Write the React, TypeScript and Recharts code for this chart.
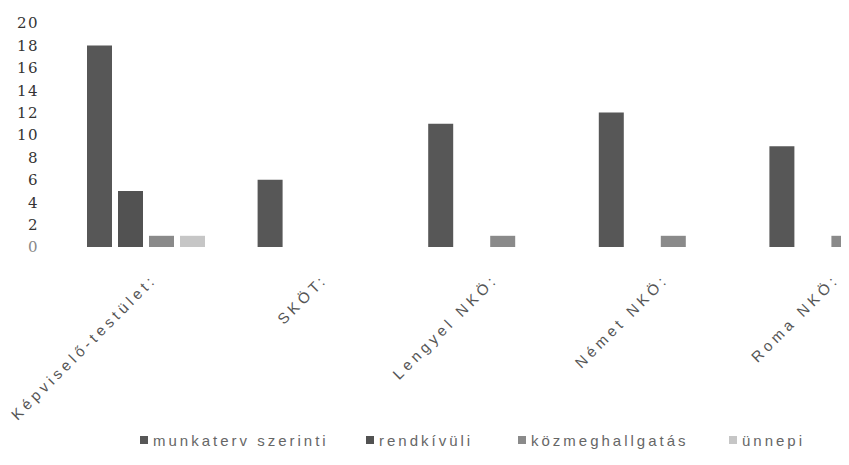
import React from 'react';
import { BarChart, Bar, XAxis, YAxis, Legend } from 'recharts';

const categories = ['Képviselő-testület:', 'SKÖT:', 'Lengyel NKÖ:', 'Német NKÖ:', 'Roma NKÖ:'];
const munkaterv = [18, 6, 11, 12, 9];
const rendkivuli = [5, 0, 0, 0, 0];
const kozmeghallgatas = [1, 0, 1, 1, 1];
const unnepi = [1, 0, 0, 0, 0];
const seriesNames = ['munkaterv szerinti', 'rendkívüli', 'közmeghallgatás', 'ünnepi'];
const yTicks = [0, 2, 4, 6, 8, 10, 12, 14, 16, 18, 20];

const seriesKeys = ['s0', 's1', 's2', 's3'];
const seriesColors = ['#575757', '#525252', '#8a8a8a', '#c6c6c6'];
const legendItemWidths = [226, 152, 211, 100];

const data = categories.map((c, i) => ({
  name: c,
  s0: munkaterv[i],
  s1: rendkivuli[i],
  s2: kozmeghallgatas[i],
  s3: unnepi[i],
}));

const XTick = (props: any) => {
  const { x, y, payload } = props;
  return (
    <g transform={`translate(${x + 4},${y - 3})`}>
      <text
        transform="rotate(-45)"
        textAnchor="end"
        dy="0.71em"
        fontFamily="Liberation Sans"
        fontSize={15}
        letterSpacing={4}
        fill="#555"
      >
        {payload.value}
      </text>
    </g>
  );
};

const YTick = (props: any) => {
  const { x, y, payload } = props;
  return (
    <text
      x={x}
      y={y}
      dy="0.36em"
      textAnchor="end"
      fontFamily="DejaVu Serif"
      fontSize={15}
      letterSpacing={1.5}
      fill={payload.value === 0 ? '#888' : '#333'}
    >
      {payload.value}
    </text>
  );
};

const LegendContent = () => (
  <div
    style={{
      height: 30,
      display: 'flex',
      alignItems: 'center',
      paddingLeft: 132,
      fontFamily: 'Liberation Sans',
      fontSize: 15,
      letterSpacing: 3,
      color: '#666',
      whiteSpace: 'nowrap',
    }}
  >
    {seriesNames.map((n, i) => (
      <div key={n} style={{ display: 'flex', alignItems: 'center', width: legendItemWidths[i] }}>
        <span
          style={{
            display: 'inline-block',
            width: 8,
            height: 8,
            background: seriesColors[i],
            marginRight: 5,
          }}
        />
        <span>{n}</span>
      </div>
    ))}
  </div>
);

export default function App() {
  return (
    <div style={{ width: 841, height: 457, overflow: 'hidden' }}>
      <BarChart
        width={906}
        height={457}
        data={data}
        margin={{ top: 15, right: 0, bottom: 10, left: 0 }}
        barSize={25}
        barGap={6}
      >
        <XAxis
          dataKey="name"
          axisLine={false}
          tickLine={false}
          interval={0}
          height={178}
          tickMargin={23}
          tick={<XTick />}
        />
        <YAxis
          width={53}
          domain={[0, 20]}
          ticks={yTicks}
          interval={0}
          axisLine={false}
          tickLine={false}
          tickMargin={16}
          tick={<YTick />}
        />
        <Legend verticalAlign="bottom" content={<LegendContent />} />
        {seriesKeys.map((k, i) => (
          <Bar key={k} dataKey={k} name={seriesNames[i]} fill={seriesColors[i]} isAnimationActive={false} />
        ))}
      </BarChart>
    </div>
  );
}
